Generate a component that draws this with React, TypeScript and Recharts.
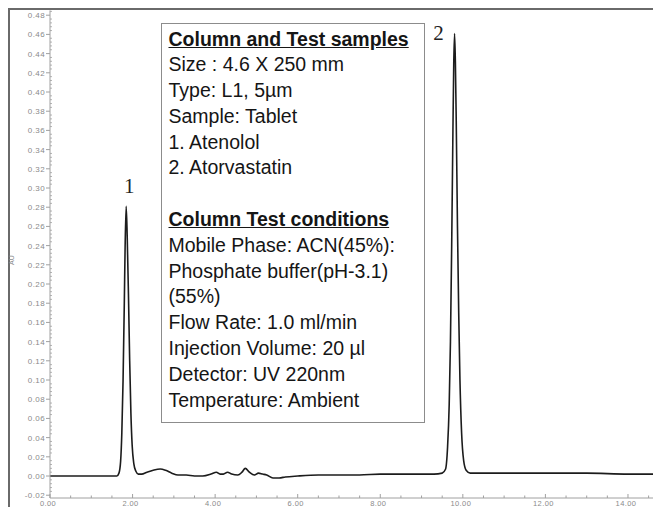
import { LineChart, Line, XAxis, YAxis, ReferenceDot } from 'recharts';

// retention time (min) and absorbance (AU)
const times = [
  0, 0.5, 1.0, 1.5, 1.62, 1.67, 1.71, 1.74, 1.77, 1.8, 1.82, 1.845, 1.87, 1.9, 1.93, 1.96, 1.99, 2.03, 2.08, 2.14,
  2.22, 2.35, 2.5, 2.67, 2.8, 2.95, 3.1, 3.3, 3.5, 3.7, 3.9, 4.03, 4.12, 4.2, 4.3, 4.4, 4.55, 4.65, 4.73, 4.83,
  4.95, 5.05, 5.15, 5.25, 5.4, 5.55, 5.7, 6.0, 6.5, 7.0, 7.5, 8.0, 8.5, 9.0, 9.3, 9.5, 9.58, 9.63, 9.67, 9.7,
  9.73, 9.76, 9.78, 9.8, 9.82, 9.84, 9.87, 9.9, 9.93, 9.97, 10.02, 10.08, 10.18, 10.5, 11.0, 12.0, 13.0, 14.0, 14.8,
];
const absorbance = [
  0, 0, 0, 0, 0, 0.003, 0.015, 0.045, 0.1, 0.18, 0.24, 0.281, 0.25, 0.19, 0.12, 0.065, 0.032, 0.013, 0.005, 0.002,
  0.002, 0.004, 0.006, 0.0073, 0.006, 0.003, 0.001, 0.001, 0, 0, 0.002, 0.004, 0.002, 0.002, 0.004, 0.002, 0.001, 0.004, 0.008, 0.004,
  0.001, 0.003, 0.002, 0.001, -0.002, -0.002, -0.001, 0, 0.001, 0.001, 0.001, 0.002, 0.002, 0.002, 0.002, 0.003, 0.007, 0.03, 0.075, 0.14,
  0.24, 0.36, 0.43, 0.461, 0.43, 0.37, 0.26, 0.17, 0.1, 0.045, 0.016, 0.006, 0.003, 0.003, 0.003, 0.003, 0.003, 0.002, 0.002,
];

const peakLabels = ['1', '2'];
const peakTimes = [1.845, 9.8];
const peakHeights = [0.281, 0.461];

const xMajorTicks = [0, 2, 4, 6, 8, 10, 12, 14];
const yMajorTicks = [-0.02, 0, 0.02, 0.04, 0.06, 0.08, 0.1, 0.12, 0.14, 0.16, 0.18, 0.2, 0.22, 0.24, 0.26, 0.28, 0.3, 0.32, 0.34, 0.36, 0.38, 0.4, 0.42, 0.44, 0.46, 0.48];

const sampleLines = ['Size : 4.6 X 250 mm', 'Type: L1, 5µm', 'Sample: Tablet', '1. Atenolol', '2. Atorvastatin'];
const conditionLines = [
  'Mobile Phase: ACN(45%):',
  'Phosphate buffer(pH-3.1)',
  '(55%)',
  'Flow Rate: 1.0 ml/min',
  'Injection Volume: 20 µl',
  'Detector: UV 220nm',
  'Temperature: Ambient',
];

const data = times.map((t, i) => ({ t, au: absorbance[i] }));

// minor ticks, every 0.5 min and every 0.004 AU
const xTicks = Array.from({ length: 30 }, (_, i) => i * 0.5);
const yTicks = Array.from({ length: 127 }, (_, i) => Math.round((-0.02 + i * 0.004) * 1000) / 1000).filter((v) => v <= 0.484);

const isMajor = (v: number, majors: number[]) => majors.some((m) => Math.abs(m - v) < 1e-6);

const AXIS = '#a0a0a0';
const LABEL = '#8a8a8a';

const XTick = (props: any) => {
  const { x, y, payload } = props;
  const major = isMajor(payload.value, xMajorTicks);
  return (
    <g>
      <line x1={x} x2={x} y1={y - (major ? 4 : 2.5)} y2={y} stroke={AXIS} strokeWidth={1} />
      {major && (
        <text x={x - 2} y={y + 7.5} textAnchor="middle" fontSize={7.5} fill={LABEL} fontFamily="Liberation Sans, Arial" letterSpacing={0.4}>
          {payload.value.toFixed(2)}
        </text>
      )}
    </g>
  );
};

const YTick = (props: any) => {
  const { x, y, payload } = props;
  const major = isMajor(payload.value, yMajorTicks);
  return (
    <g>
      {major ? (
        <line x1={x - 4} x2={x} y1={y} y2={y} stroke={AXIS} strokeWidth={1} />
      ) : (
        <line x1={x} x2={x + 2} y1={y} y2={y} stroke={AXIS} strokeWidth={0.8} />
      )}
      {major && (
        <text x={x - 5} y={y + 3} textAnchor="end" fontSize={8} fill={LABEL} fontFamily="Liberation Sans, Arial" letterSpacing={0.4}>
          {payload.value.toFixed(2)}
        </text>
      )}
    </g>
  );
};

export default function App() {
  return (
    <div style={{ position: 'relative', width: 653, height: 499, overflow: 'hidden', background: '#fff' }}>
      <div
        style={{
          position: 'absolute',
          left: 0,
          top: 0,
          width: 653,
          height: 499,
          borderLeft: '2px solid #6a6a6a',
          borderTop: '2px solid #6a6a6a',
          boxSizing: 'border-box',
        }}
      />
      <div style={{ position: 'absolute', left: 0, top: 0 }}>
        <LineChart width={653} height={499} data={data} margin={{ top: 2.4, right: 0, bottom: 0, left: 0 }}>
          <XAxis
            dataKey="t"
            type="number"
            domain={[0, 14.8]}
            allowDataOverflow
            ticks={xTicks}
            interval={0}
            height={9}
            tickSize={0}
            tickMargin={0}
            stroke={AXIS}
            tick={<XTick />}
          />
          <YAxis
            type="number"
            domain={[-0.0229, 0.485]}
            allowDataOverflow
            ticks={yTicks}
            interval={0}
            width={42}
            tickSize={0}
            tickMargin={0}
            stroke={AXIS}
            tick={<YTick />}
            label={{
              content: () => (
                <text x={6} y={252} fontSize={7} fill={LABEL} fontFamily="Liberation Sans, Arial" transform="rotate(-90 6 252)" textAnchor="middle">
                  AU
                </text>
              ),
            }}
          />
          <Line
            type="monotone"
            dataKey="au"
            stroke="#1c1c1c"
            strokeWidth={1.6}
            dot={false}
            isAnimationActive={false}
          />
          {peakLabels.map((label, i) => (
            <ReferenceDot
              key={label}
              x={peakTimes[i]}
              y={peakHeights[i]}
              r={0}
              shape={(p: any) => (
                <text
                  x={i === 0 ? p.cx + 3 : p.cx - 16}
                  y={i === 0 ? p.cy - 13 : p.cy + 7}
                  textAnchor="middle"
                  fontSize={21}
                  fill="#222"
                  fontFamily="Liberation Serif, Times New Roman, serif"
                >
                  {label}
                </text>
              )}
            />
          ))}
        </LineChart>
      </div>
      <div
        style={{
          position: 'absolute',
          left: 153,
          top: 15,
          width: 264,
          height: 400,
          border: '1.5px solid #8c8c8c',
          background: '#fff',
          boxSizing: 'border-box',
          padding: '2.5px 0 0 6.5px',
          fontFamily: 'Liberation Sans, Arial, sans-serif',
          fontSize: 19.5,
          lineHeight: '25.8px',
          color: '#151515',
          whiteSpace: 'nowrap',
        }}
      >
        <div style={{ fontWeight: 'bold', textDecoration: 'underline' }}>Column and Test samples</div>
        {sampleLines.map((s) => (
          <div key={s}>{s}</div>
        ))}
        <div>&nbsp;</div>
        <div style={{ fontWeight: 'bold', textDecoration: 'underline' }}>Column Test conditions</div>
        {conditionLines.map((s) => (
          <div key={s}>{s}</div>
        ))}
      </div>
    </div>
  );
}
